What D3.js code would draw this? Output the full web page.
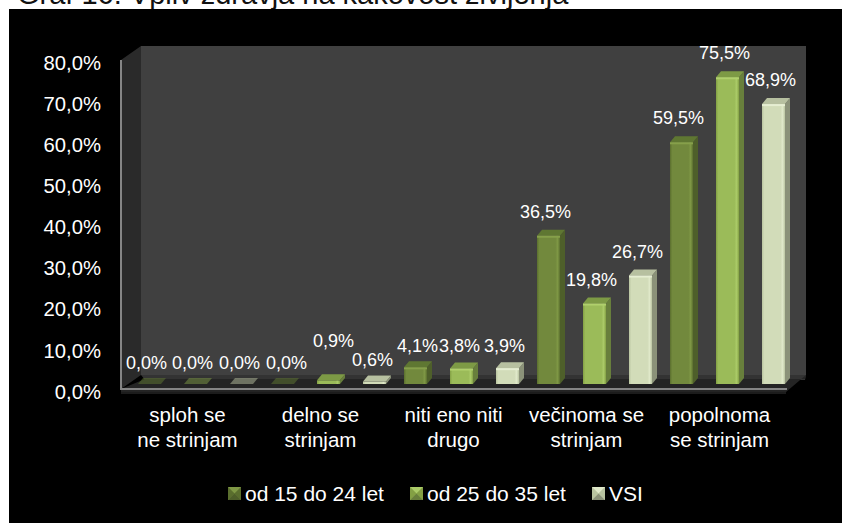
<!DOCTYPE html>
<html>
<head>
<meta charset="utf-8">
<script src="https://cdn.jsdelivr.net/npm/d3@7"></script>
<style>
  html, body { margin: 0; padding: 0; background: #fff; overflow: hidden; }
  text { font-family: "Liberation Sans", Arial, sans-serif; }
</style>
</head>
<body>
<svg id="chart" width="842" height="523"></svg>
<script>
// values
const titleText = "Graf 16: Vpliv zdravja na kakovost življenja";
const categories = [
    ["sploh se", "ne strinjam"],
    ["delno se", "strinjam"],
    ["niti eno niti", "drugo"],
    ["večinoma se", "strinjam"],
    ["popolnoma", "se strinjam"]
];
const series = ["od 15 do 24 let", "od 25 do 35 let", "VSI"];
const young = [0.0, 0.0, 4.1, 36.5, 59.5];
const older = [0.0, 0.9, 3.8, 19.8, 75.5];
const all = [0.0, 0.6, 3.9, 26.7, 68.9];
const yTicks = [0, 10, 20, 30, 40, 50, 60, 70, 80];

const seriesValues = [young, older, all];

// face colours per series
const faces = [
    { front: "#72893d", edge: "#5a6e2e", shine: "#7f9845", side: "#4e5f2a", top: "#5f7732", lip: "#86a04a" },
    { front: "#9bbb59", edge: "#83a044", shine: "#abcb68", side: "#687f3c", top: "#7d9a45", lip: "#b0d06c" },
    { front: "#d2dcb9", edge: "#b9c4a0", shine: "#e0e9ca", side: "#8b9279", top: "#b7c0a0", lip: "#e6eed2" }
];

// the data labels that were dragged by hand in the original: [series, category, dx, dy]
const labelNudges = [
    [1, 0, 0, 3], [0, 0, 0, 3], [2, 0, 1, 3], [0, 1, 7, 3],
    [1, 1, 8, -15], [2, 1, 1, 2],
    [0, 2, 5, 3], [1, 2, 1, 1.5], [2, 2, 0, 2]
];

const svg = d3.select("#chart");
const depthX = 20, depthY = 14;         // wall depth
const barDepthX = 5, barDepthY = 6;     // bar depth
const left = 121, right = 786;

const y = d3.scaleLinear().domain([0, 80]).range([389, 60]);
const barY = d3.scaleLinear().domain([0, 80]).range([384, 59]);
const x0 = d3.scaleBand().domain(d3.range(categories.length)).range([left, right]);
const x1 = d3.scaleBand().domain(d3.range(series.length)).range([17, 132]).paddingInner(0.5);

const locale = d3.formatLocale({ decimal: ",", thousands: ".", grouping: [3], currency: ["", "€"] });
const fmt = locale.format(".1f");
const pct = v => fmt(v) + "%";

// title sits half cut off at the top of the picture
svg.append("text")
    .attr("x", 17).attr("y", 4)
    .attr("font-size", 29)
    .attr("fill", "#111")
    .text(titleText);

svg.append("rect")
    .attr("x", 9).attr("y", 9)
    .attr("width", 833).attr("height", 514)
    .attr("fill", "#000");

const defs = svg.append("defs");
faces.forEach((f, i) => {
    const g = defs.append("linearGradient").attr("id", "front" + i);
    g.append("stop").attr("offset", "0%").attr("stop-color", f.edge);
    g.append("stop").attr("offset", "10%").attr("stop-color", f.front);
    g.append("stop").attr("offset", "80%").attr("stop-color", f.front);
    g.append("stop").attr("offset", "90%").attr("stop-color", f.shine);
    g.append("stop").attr("offset", "100%").attr("stop-color", f.edge);

    const m = defs.append("g").attr("id", "marker" + i);
    m.append("rect").attr("width", 13).attr("height", 13).attr("fill", f.front);
    m.append("path").attr("d", "M0,0H13L6.5,6.5Z").attr("fill", f.shine);
    m.append("path").attr("d", "M0,0V13L6.5,6.5Z").attr("fill", f.edge);
    m.append("path").attr("d", "M13,0V13L6.5,6.5Z").attr("fill", f.edge);
    m.append("path").attr("d", "M0,13H13L6.5,6.5Z").attr("fill", f.side);
});

// walls and floor
const y0 = y(0), yTop = y(80);
const backRight = right + depthX, backLeft = left + depthX;
svg.append("rect")
    .attr("x", backLeft).attr("y", yTop - depthY)
    .attr("width", right - left).attr("height", y0 - yTop)
    .attr("fill", "#404040");
svg.append("path")
    .attr("d", `M${left},${yTop}L${backLeft},${yTop - depthY}V${y0 - depthY}L${left},${y0}Z`)
    .attr("fill", "#2a2a2a");
svg.append("path")
    .attr("d", `M${backLeft},${y0 - depthY}H${backRight}L${backRight - 1},${y0 - depthY + 5}H${backLeft + 4}Z`)
    .attr("fill", "#333");
svg.append("path")
    .attr("d", `M${backLeft + 4},${y0 - depthY + 4}H${backRight - 1}L${backRight},${y0 - depthY}L${right},${y0 + 3}H${left}V${y0}Z`)
    .attr("fill", "#242424");
svg.append("rect")
    .attr("x", left).attr("y", y0 + 3)
    .attr("width", right - left).attr("height", 2)
    .attr("fill", "#1c1c1c");
svg.append("path")
    .attr("d", `M${left},${yTop}V${y0}H${right + 1}`)
    .attr("fill", "none")
    .attr("stroke", "#858585")
    .attr("stroke-width", 2);

// y axis
const axis = svg.append("g")
    .attr("transform", `translate(${left - 16},0)`)
    .call(d3.axisLeft(y).tickValues(yTicks).tickSize(0).tickPadding(4).tickFormat(pct));
axis.select(".domain").remove();
axis.selectAll("text")
    .attr("dy", "0.45em")
    .attr("font-size", 20.3)
    .attr("font-family", '"Liberation Sans", Arial, sans-serif')
    .attr("fill", "#fff");

// bars
const bars = series.flatMap((s, i) => categories.map((c, j) => ({
    s: i, c: j, value: seriesValues[i][j],
    x: x0(j) + x1(i), w: x1.bandwidth()
})));

const bar = svg.append("g").selectAll("g")
    .data(bars)
    .enter().append("g")
    .attr("opacity", d => d.value === 0 ? 0.5 : 1);

bar.filter(d => d.value > 0).append("path")
    .attr("d", d => `M${d.x + d.w},${barY(d.value)}l${barDepthX},${-barDepthY}V${barY(0) - barDepthY}l${-barDepthX},${barDepthY}Z`)
    .attr("fill", d => faces[d.s].side);

bar.append("path")
    .attr("d", d => `M${d.x},${barY(d.value)}l${barDepthX},${-barDepthY}h${d.w}l${-barDepthX},${barDepthY}Z`)
    .attr("fill", d => faces[d.s].top);

bar.filter(d => d.value > 0).append("rect")
    .attr("x", d => d.x)
    .attr("y", d => barY(d.value))
    .attr("width", d => d.w)
    .attr("height", d => barY(0) - barY(d.value))
    .attr("fill", d => `url(#front${d.s})`);

bar.filter(d => d.value > 1).append("rect")
    .attr("x", d => d.x)
    .attr("y", d => barY(d.value))
    .attr("width", d => d.w)
    .attr("height", 2)
    .attr("fill", d => faces[d.s].lip);

// data labels
const nudge = (d, k) => {
    const n = labelNudges.find(m => m[0] === d.s && m[1] === d.c);
    return n ? n[k] : 0;
};
svg.append("g").selectAll("text")
    .data(bars)
    .enter().append("text")
    .attr("x", d => d.x + 8.5 + nudge(d, 2))
    .attr("y", d => barY(d.value) - 18 + nudge(d, 3))
    .attr("text-anchor", "middle")
    .attr("font-size", 18)
    .attr("fill", "#fff")
    .text(d => pct(d.value));

// category labels
const catLabel = svg.append("g").selectAll("text")
    .data(categories)
    .enter().append("text")
    .attr("text-anchor", "middle")
    .attr("font-size", 20.5)
    .attr("fill", "#fff");
catLabel.selectAll("tspan")
    .data((d, i) => d.map((line, k) => ({ line, k, i })))
    .enter().append("tspan")
    .attr("x", d => x0(d.i) + x0.bandwidth() / 2)
    .attr("y", d => 422 + d.k * 25)
    .text(d => d.line);

// legend
const legend = svg.append("g").selectAll("g")
    .data(series)
    .enter().append("g")
    .attr("transform", (d, i) => `translate(${228 + i * 182},487)`);
legend.append("use").attr("href", (d, i) => `#marker${i}`);
legend.append("text")
    .attr("x", 17).attr("y", 14)
    .attr("font-size", 21)
    .attr("fill", "#fff")
    .text(d => d);
</script>
</body>
</html>
